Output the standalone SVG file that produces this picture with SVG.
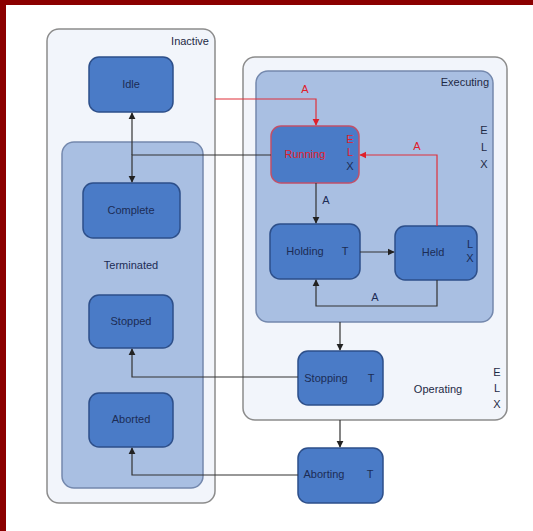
<svg xmlns="http://www.w3.org/2000/svg" width="533" height="531" viewBox="0 0 533 531">
<defs>
<marker id="ah" viewBox="0 0 10 10" refX="9" refY="5" markerWidth="6" markerHeight="6" orient="auto"><path d="M0,0 L10,5 L0,10 z" fill="#222"/></marker>
<marker id="ahr" viewBox="0 0 10 10" refX="9" refY="5" markerWidth="6" markerHeight="6" orient="auto"><path d="M0,0 L10,5 L0,10 z" fill="#e0202a"/></marker>
</defs>
<style>
.outer{fill:#f2f5fb;stroke:#8c8c8c;stroke-width:1.5}
.inner{fill:#a9bfe2;stroke:#7488ad;stroke-width:1.5}
.node{fill:#4a7bc7;stroke:#2d4f8a;stroke-width:1.5}
.lbl{font-family:"Liberation Sans",Arial,sans-serif;font-size:11px;fill:#1e2a45}
.nl{font-family:"Liberation Sans",Arial,sans-serif;font-size:11px;fill:#1c2c55;text-anchor:middle}
.red{fill:#e0202a}
.c{fill:none;stroke:#333;stroke-width:1.2}
.cr{fill:none;stroke:#e0303a;stroke-width:1.2}
</style>
<rect x="0" y="0" width="533" height="531" fill="#ffffff"/>
<rect x="0" y="0" width="533" height="5" fill="#8b0000"/>
<rect x="0" y="0" width="6" height="531" fill="#8b0000"/>

<g id="inactive">
<rect class="outer" x="47" y="29" width="168" height="474" rx="12"/>
<text class="lbl" x="209" y="45" text-anchor="end">Inactive</text>
</g>
<g id="terminated">
<rect class="inner" x="62" y="142" width="141" height="346" rx="12"/>
<text class="nl" x="131" y="269">Terminated</text>
</g>
<g id="operating">
<rect class="outer" x="243" y="57" width="264" height="363" rx="12"/>
<text class="lbl" x="438" y="393" text-anchor="middle">Operating</text>
<text class="lbl" x="497" y="376" text-anchor="middle">E</text>
<text class="lbl" x="497" y="392" text-anchor="middle">L</text>
<text class="lbl" x="497" y="408" text-anchor="middle">X</text>
</g>
<g id="executing">
<rect class="inner" x="256" y="71" width="237" height="251" rx="12"/>
<text class="lbl" x="489" y="86" text-anchor="end">Executing</text>
<text class="lbl" x="484" y="134" text-anchor="middle">E</text>
<text class="lbl" x="484" y="151" text-anchor="middle">L</text>
<text class="lbl" x="484" y="168" text-anchor="middle">X</text>
</g>

<g id="idle"><rect class="node" x="89" y="57" width="84" height="55" rx="10"/><text class="nl" x="131" y="88">Idle</text></g>
<g id="complete"><rect class="node" x="83" y="183" width="97" height="55" rx="10"/><text class="nl" x="131" y="214">Complete</text></g>
<g id="stopped"><rect class="node" x="89" y="295" width="84" height="53" rx="10"/><text class="nl" x="131" y="325">Stopped</text></g>
<g id="aborted"><rect class="node" x="89" y="393" width="84" height="54" rx="10"/><text class="nl" x="131" y="423">Aborted</text></g>
<g id="running"><rect class="node" x="271" y="126" width="88" height="57" rx="10" style="stroke:#c0506a"/><text class="nl red" x="305" y="158">Running</text>
<text class="nl red" x="350" y="143" font-size="8">E</text><text class="nl red" x="350" y="156" font-size="8">L</text><text class="nl" x="350" y="170" font-size="8">X</text></g>
<g id="holding"><rect class="node" x="270" y="224" width="90" height="55" rx="10"/><text class="nl" x="305" y="255">Holding</text><text class="nl" x="345" y="255">T</text></g>
<g id="held"><rect class="node" x="395" y="226" width="82" height="54" rx="10"/><text class="nl" x="433" y="256">Held</text><text class="nl" x="470" y="248" font-size="10">L</text><text class="nl" x="470" y="262" font-size="10">X</text></g>
<g id="stopping"><rect class="node" x="298" y="351" width="85" height="54" rx="10"/><text class="nl" x="326" y="382">Stopping</text><text class="nl" x="371" y="382">T</text></g>
<g id="aborting"><rect class="node" x="298" y="448" width="85" height="55" rx="10"/><text class="nl" x="324" y="478">Aborting</text><text class="nl" x="370" y="478">T</text></g>

<g id="connectors">
<path class="c" d="M132,155 V113" marker-end="url(#ah)"/>
<path class="c" d="M271,155 H132 V182" marker-end="url(#ah)"/>
<path class="cr" d="M215,99 H316 V125" marker-end="url(#ahr)"/>
<text class="nl red" x="305" y="93">A</text>
<path class="cr" d="M437,226 V155 H360" marker-end="url(#ahr)"/>
<text class="nl red" x="417" y="150">A</text>
<path class="c" d="M316,183 V223" marker-end="url(#ah)"/>
<text class="nl" x="326" y="204">A</text>
<path class="c" d="M360,252 H394" marker-end="url(#ah)"/>
<path class="c" d="M437,280 V306 H316 V280" marker-end="url(#ah)"/>
<text class="nl" x="375" y="301">A</text>
<path class="c" d="M340,322 V350" marker-end="url(#ah)"/>
<path class="c" d="M298,377 H132 V349" marker-end="url(#ah)"/>
<path class="c" d="M340,420 V447" marker-end="url(#ah)"/>
<path class="c" d="M298,475 H132 V448" marker-end="url(#ah)"/>
</g>
</svg>
